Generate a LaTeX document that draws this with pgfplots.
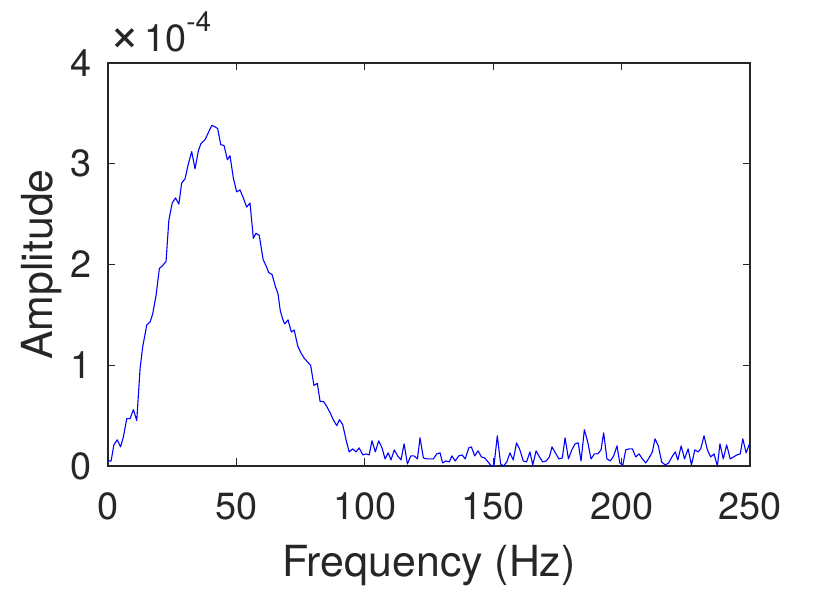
\documentclass[border=0pt]{standalone}
\usepackage{pgfplots}
\pgfplotsset{compat=1.18}
\usepackage{fontspec}
\setmainfont{TeX Gyre Heros}
\definecolor{txt}{rgb}{0.15,0.15,0.15}
\begin{document}
\begin{tikzpicture}
\useasboundingbox (-108bp,-123bp) rectangle (722bp,466bp);
\begin{axis}[
  at={(0,0)}, anchor=south west,
  scale only axis, width=642bp, height=403bp,
  xmin=0, xmax=250, ymin=0, ymax=4,
  xtick={0,50,100,150,200,250}, ytick={0,1,2,3,4},
  tick align=inside, major tick length=7.5bp,
  axis line style={draw=txt, line width=1.1bp},
  tick style={draw=txt, line width=1.1bp},
  tick label style={font=\fontsize{38}{38}\selectfont, text=txt},
  /pgf/number format/assume math mode=true,
  xticklabel style={anchor=base, yshift=-53.3bp, inner sep=0pt},
  yticklabel style={anchor=east, xshift=-16.5bp, inner sep=0pt},
  xlabel={Frequency (Hz)}, ylabel={Amplitude},
  every axis x label/.style={at={(axis description cs:0.5,0)}, anchor=base, yshift=-110.7bp, inner sep=0pt, font=\fontsize{43}{43}\selectfont, text=txt},
  every axis y label/.style={at={(axis description cs:0,0.5)}, xshift=-55bp, rotate=90, anchor=base, inner sep=0pt, font=\fontsize{43}{43}\selectfont, text=txt},
  clip=false,
]
\addplot[color=blue, line width=1.1bp, line join=round] coordinates {
(0,0.05) (1.2,0.05) (2.3,0.21) (3.6,0.26) (4.9,0.19) (6.0,0.29) (7.3,0.47) (8.6,0.47) (9.9,0.56) (11.2,0.45)
(12.5,0.97) (13.5,1.18) (15.1,1.40) (16.4,1.43) (17.4,1.51) (18.7,1.69) (20.0,1.96) (21.3,1.99) (22.6,2.03) (23.7,2.44)
(25.0,2.61) (26.3,2.66) (27.6,2.60) (28.7,2.81) (30.0,2.85) (31.3,3.00) (32.6,3.12) (33.9,2.95) (35.2,3.13) (36.2,3.20)
(37.8,3.24) (39.1,3.31) (40.4,3.38) (41.4,3.37) (42.7,3.35) (43.9,3.19) (45.2,3.18) (46.5,3.04) (47.5,3.08) (48.8,2.86)
(50.1,2.72) (51.4,2.74) (52.7,2.66) (54.0,2.57) (55.3,2.61) (56.6,2.26) (57.6,2.31) (58.9,2.29) (60.4,2.05) (61.5,1.99)
(62.6,1.92) (63.9,1.90) (65.2,1.78) (66.2,1.71) (67.1,1.54) (68.0,1.46) (68.8,1.41) (70.1,1.45) (71.4,1.33) (72.5,1.35)
(73.9,1.19) (75.2,1.12) (76.4,1.07) (77.8,1.03) (78.9,1.00) (80.2,0.80) (81.5,0.82) (82.6,0.64) (83.9,0.64) (85.2,0.59)
(86.5,0.53) (87.7,0.46) (89.1,0.40) (90.1,0.46) (91.4,0.41) (92.7,0.26) (93.9,0.14) (95.3,0.17) (96.6,0.14) (97.8,0.18)
(99.2,0.11) (100.5,0.12) (101.7,0.11) (102.8,0.25) (104.1,0.14) (105.4,0.25) (106.7,0.18) (107.9,0.07) (109.1,0.13) (110.2,0.06)
(111.5,0.16) (112.8,0.10) (114.1,0.06) (115.3,0.22) (116.6,0.02) (117.9,0.10) (119.2,0.10) (120.5,0.07) (121.5,0.28) (122.8,0.08)
(124.1,0.07) (125.4,0.07) (126.7,0.07) (128.0,0.12) (129.3,0.13) (130.3,0.03) (131.6,0.05) (132.9,0.04) (133.9,0.10) (135.2,0.05)
(136.6,0.10) (137.9,0.11) (139.1,0.07) (140.5,0.18) (141.5,0.19) (142.8,0.10) (144.1,0.15) (145.4,0.09) (146.7,0.08) (148.0,0.04)
(149.3,0.00) (150.3,0.00) (151.6,0.30) (152.9,0.02) (154.0,0.00) (155.3,0.04) (156.5,0.13) (157.8,0.06) (159.1,0.23) (160.4,0.16)
(161.7,0.05) (163.0,0.04) (164.3,0.14) (165.4,0.01) (166.7,0.15) (168.0,0.09) (169.3,0.04) (170.6,0.05) (171.9,0.09) (172.9,0.19)
(174.2,0.13) (175.6,0.07) (176.9,0.08) (178.0,0.28) (179.3,0.07) (180.6,0.16) (181.9,0.22) (183.1,0.23) (184.2,0.05) (185.5,0.36)
(186.8,0.24) (188.1,0.07) (189.4,0.12) (190.7,0.12) (192.0,0.16) (193.0,0.33) (194.3,0.07) (195.6,0.05) (196.9,0.10) (198.2,0.20)
(199.3,0.03) (200.5,0.01) (201.6,0.16) (202.9,0.17) (204.2,0.17) (205.5,0.09) (206.8,0.12) (208.1,0.07) (209.4,0.03) (210.7,0.08)
(212.0,0.14) (213.0,0.27) (214.3,0.20) (215.6,0.04) (217.0,0.01) (218.3,0.03) (219.6,0.09) (220.9,0.14) (221.9,0.06) (223.2,0.20)
(224.5,0.07) (225.9,0.17) (227.2,0.01) (228.5,0.16) (229.8,0.14) (230.8,0.17) (232.1,0.30) (233.4,0.16) (234.7,0.09) (236.0,0.12)
(237.3,0.00) (238.3,0.22) (239.6,0.07) (240.9,0.21) (242.3,0.07) (243.6,0.09) (244.9,0.11) (246.2,0.12) (247.2,0.27) (248.5,0.13)
(249.8,0.22)
};
\end{axis}
\node[anchor=base west, inner sep=0pt, text=txt, font=\fontsize{38}{38}\selectfont]
  at ([xshift=1bp, yshift=11.3bp]current axis.north west)
  {\scalebox{1.4}{×}\hspace{4bp}10\raisebox{20bp}{\fontsize{28}{28}\selectfont -4}};
\end{tikzpicture}
\end{document}
